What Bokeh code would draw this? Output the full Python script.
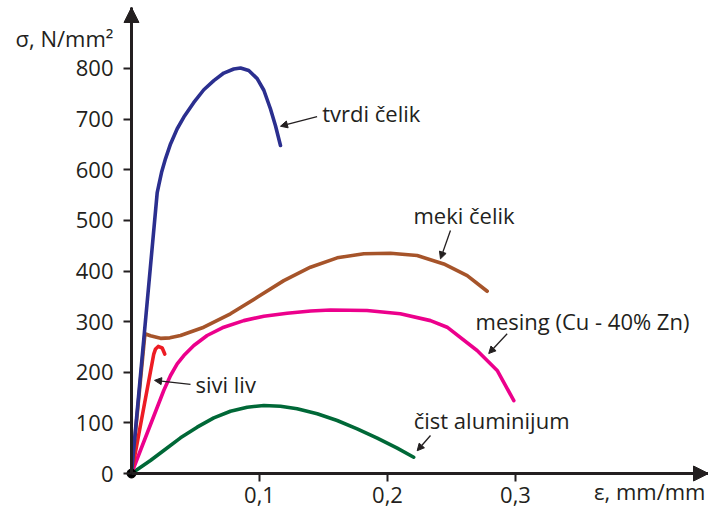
from bokeh.plotting import figure
from bokeh.models import Arrow, NormalHead, Label, FixedTicker, LinearAxis
from bokeh.embed import file_html
from bokeh.resources import INLINE

# ---- data ----
tvrdi_x = [0, 0.0201, 0.0213, 0.0235, 0.0266, 0.0305, 0.0357, 0.0409, 0.0487, 0.0565, 0.0643, 0.0721,
           0.0799, 0.0852, 0.0916, 0.0982, 0.1034, 0.1086, 0.1125, 0.1164]
tvrdi_y = [0, 555, 569, 595, 622, 651, 681, 704, 733, 758, 776, 791,
           799, 801, 796, 780, 757, 720, 687, 648]

meki_x = [0, 0.0105, 0.0148, 0.0227, 0.0300, 0.0383, 0.0565, 0.0773, 0.0982, 0.119, 0.1398, 0.1607,
          0.1815, 0.2023, 0.2232, 0.244, 0.2623, 0.2779]
meki_y = [0, 276, 272, 267, 268, 272.6, 289, 315.5, 348, 381, 407.5, 426,
          434, 435, 430.6, 414, 391, 360]

mesing_x = [0, 0.0252, 0.0305, 0.0357, 0.0409, 0.0487, 0.0591, 0.0721, 0.0877, 0.1034, 0.1216, 0.1400,
            0.1555, 0.184, 0.210, 0.2336, 0.2466, 0.27, 0.2857, 0.2987]
mesing_y = [0, 164, 193.6, 216.7, 233, 252.8, 272.6, 289, 302, 310.7, 316.6, 321,
            323, 322, 315.5, 302, 289, 243, 203.5, 144]

sivi_x = [0, 0.0174, 0.0188, 0.0209, 0.024, 0.026]
sivi_y = [0, 236, 246, 251, 248, 236]

alu_x = [0, 0.0148, 0.0252, 0.0383, 0.0513, 0.0643, 0.0773, 0.0904, 0.1034, 0.1164, 0.1294, 0.1451,
         0.1607, 0.1763, 0.192, 0.2076, 0.2205]
alu_y = [0, 25.7, 45.4, 70.5, 91.5, 110, 123, 131, 134.3, 132.9, 127.8, 117.9,
         104.7, 88.3, 69.7, 50, 32.2]

origin_x = [0]
origin_y = [0]

x_ticks = [0.1, 0.2, 0.3]
x_tick_labels = ["0,1", "0,2", "0,3"]
y_ticks = [0, 100, 200, 300, 400, 500, 600, 700, 800]
y_tick_labels = ["0", "100", "200", "300", "400", "500", "600", "700", "800"]

FONT = "Open Sans"
TXT = "#231F20"
FS = "22px"

X_END = 0.4508
Y_END = 920.5

p = figure(width=708, height=508, x_range=(-0.10234, X_END), y_range=(-69.1, 934.3),
           output_backend="svg", toolbar_location=None,
           x_axis_location=None, y_axis_location=None,
           min_border_left=0, min_border_right=0, min_border_top=0, min_border_bottom=0)
p.outline_line_color = None
p.xgrid.visible = False
p.ygrid.visible = False
p.background_fill_color = "white"
p.border_fill_color = "white"

xax = LinearAxis(fixed_location=0, bounds=(0, X_END), ticker=FixedTicker(ticks=x_ticks),
                 major_label_overrides={t: l for t, l in zip(x_ticks, x_tick_labels)},
                 major_label_standoff=5)
yax = LinearAxis(fixed_location=0, bounds=(0, Y_END), ticker=FixedTicker(ticks=y_ticks),
                 major_label_overrides={t: l for t, l in zip(y_ticks, y_tick_labels)},
                 major_label_standoff=10)
for ax in (xax, yax):
    ax.axis_line_width = 3
    ax.axis_line_color = TXT
    ax.major_tick_line_width = 2
    ax.major_tick_line_color = TXT
    ax.major_tick_out = 8
    ax.major_tick_in = 0
    ax.minor_tick_line_color = None
    ax.major_label_text_font = FONT
    ax.major_label_text_font_size = FS
    ax.major_label_text_color = TXT
p.add_layout(xax, "below")
p.add_layout(yax, "left")

LW = 3.6
p.line(alu_x, alu_y, line_color="#006837", line_width=LW, line_cap="round", line_join="round")
p.line(mesing_x, mesing_y, line_color="#EC008C", line_width=LW, line_cap="round", line_join="round")
p.line(sivi_x, sivi_y, line_color="#ED1C24", line_width=LW, line_cap="round", line_join="round")
p.line(meki_x, meki_y, line_color="#A6542A", line_width=LW, line_cap="round", line_join="round")
p.line(tvrdi_x, tvrdi_y, line_color="#2B2F8F", line_width=LW, line_cap="round", line_join="round")
p.scatter(origin_x, origin_y, size=9, color="black")

# axis arrow heads
p.add_layout(Arrow(end=NormalHead(size=15, fill_color=TXT, line_color=TXT),
                   x_start=0, y_start=880, x_end=0, y_end=Y_END, line_width=3, line_color=TXT))
p.add_layout(Arrow(end=NormalHead(size=15, fill_color=TXT, line_color=TXT),
                   x_start=0.42, y_start=0, x_end=X_END, y_end=0, line_width=3, line_color=TXT))

def note(text, x, y, tail, tip):
    p.add_layout(Label(x=x, y=y, text=text, text_font=FONT, text_font_size=FS,
                       text_color=TXT, text_baseline="middle", text_align="left"))
    p.add_layout(Arrow(end=NormalHead(size=7, fill_color=TXT, line_color=TXT, line_width=1),
                       x_start=tail[0], y_start=tail[1], x_end=tip[0], y_end=tip[1],
                       line_width=1.3, line_color=TXT))

note("tvrdi čelik", 0.149, 713, (0.145, 705), (0.1164, 686))
note("meki čelik", 0.2203, 510, (0.2492, 480), (0.2414, 424))
note("mesing (Cu - 40% Zn)", 0.2688, 302, (0.2935, 276), (0.2791, 237))
note("čist aluminijum", 0.2205, 105, (0.2336, 75), (0.2232, 45))
note("sivi liv", 0.050, 177, (0.0461, 176), (0.018, 184))

p.add_layout(Label(x=-0.0906, y=861, text="σ, N/mm²", text_font=FONT, text_font_size=FS,
                   text_color=TXT, text_baseline="middle", text_align="left"))
p.add_layout(Label(x=0.4484, y=-35.5, text="ε, mm/mm", text_font=FONT, text_font_size=FS,
                   text_color=TXT, text_baseline="middle", text_align="right"))

open("out.html", "w").write(file_html(p, INLINE))
